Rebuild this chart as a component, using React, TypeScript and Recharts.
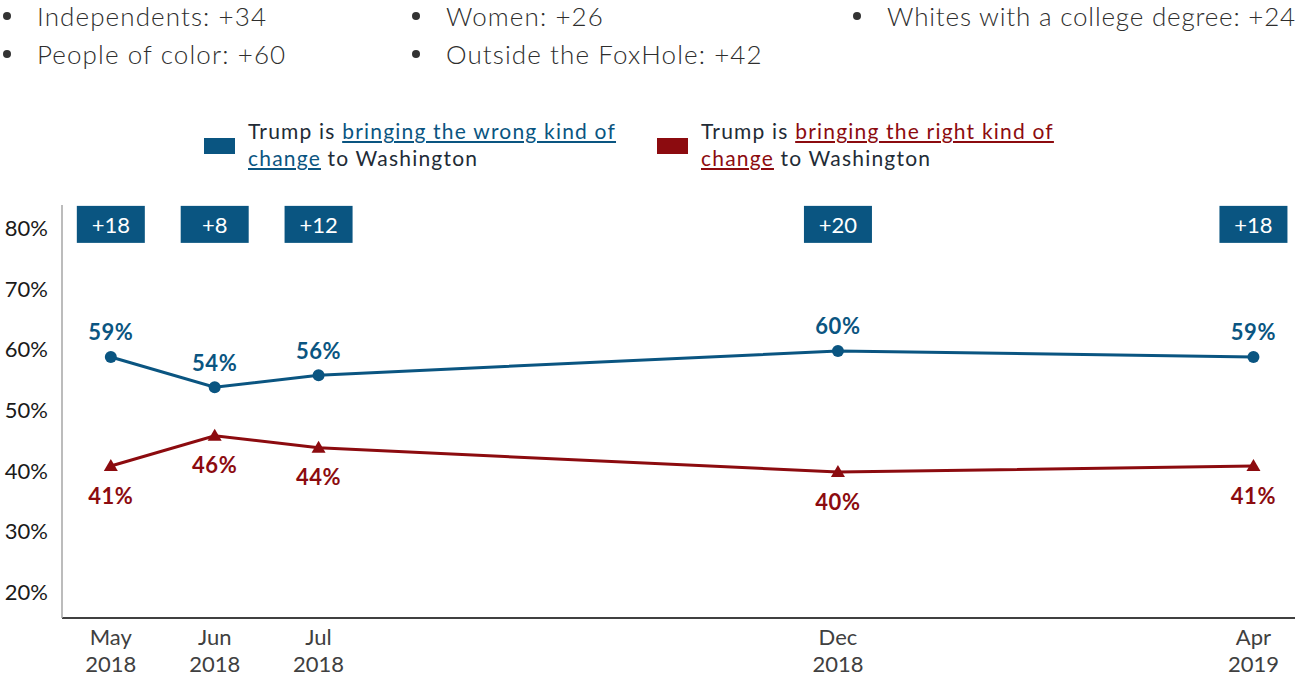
import React from 'react';
import {
  LineChart,
  Line,
  XAxis,
  YAxis,
  LabelList,
  ReferenceDot,
} from 'recharts';

// months counted from May 2018
const MONTHS = [0, 1, 2, 7, 11];
const MONTH_NAMES = ['May', 'Jun', 'Jul', 'Dec', 'Apr'];
const YEARS = ['2018', '2018', '2018', '2018', '2019'];
const WRONG_CHANGE = [59, 54, 56, 60, 59];
const RIGHT_CHANGE = [41, 46, 44, 40, 41];
const NET_MARGIN = [18, 8, 12, 20, 18];
const Y_TICKS = [20, 30, 40, 50, 60, 70, 80];

const BULLETS_COL1 = ['Independents: +34', 'People of color: +60'];
const BULLETS_COL2 = ['Women: +26', 'Outside the FoxHole: +42'];
const BULLETS_COL3 = ['Whites with a college degree: +24'];

const BLUE = '#0a5581';
const RED = '#8c0b0f';
const FONT = 'Lato, "Noto Sans", sans-serif';

const data = MONTHS.map((m, i) => ({
  m,
  wrong: WRONG_CHANGE[i],
  right: RIGHT_CHANGE[i],
}));

const MonthTick = ({ x, y, payload }: any) => {
  const idx = MONTHS.indexOf(payload.value);
  return (
    <g>
      <text x={x} y={y + 16} textAnchor="middle" dominantBaseline="central" fontSize={22} fill="#404040" fontFamily={FONT}>
        {MONTH_NAMES[idx]}
      </text>
      <text x={x} y={y + 43} textAnchor="middle" dominantBaseline="central" fontSize={22} fill="#404040" fontFamily={FONT}>
        {YEARS[idx]}
      </text>
    </g>
  );
};

const PctTick = ({ x, y, payload }: any) => (
  <text x={x} y={y - 2} textAnchor="end" dominantBaseline="central" fontSize={22} fill="#1a1a1a" fontFamily={FONT}>
    {payload.value}%
  </text>
);

const Triangle = ({ cx, cy }: any) => {
  if (cx == null || cy == null) return null;
  return <path d={`M${cx - 7},${cy + 5} L${cx + 7},${cy + 5} L${cx},${cy - 7} Z`} fill={RED} />;
};

const labelAbove = (props: any) => (
  <text x={props.x} y={props.y - 25} textAnchor="middle" dominantBaseline="central" fontSize={22} fontWeight={700} letterSpacing={0.6} fill={BLUE} fontFamily={FONT}>
    {props.value}%
  </text>
);

const labelBelow = (props: any) => (
  <text x={props.x} y={props.y + 29} textAnchor="middle" dominantBaseline="central" fontSize={22} fontWeight={700} letterSpacing={0.6} fill={RED} fontFamily={FONT}>
    {props.value}%
  </text>
);

const marginBox = (value: number) => (props: any) => (
  <g>
    <rect x={props.cx - 34} y={props.cy - 18.5} width={68} height={37} fill={BLUE} />
    <text x={props.cx} y={props.cy} textAnchor="middle" dominantBaseline="central" fontSize={22} fill="#fff" fontFamily={FONT}>
      +{value}
    </text>
  </g>
);

const Bullet = ({ text }: { text: string }) => (
  <div style={{ display: 'flex', alignItems: 'center', height: 38 }}>
    <span style={{ width: 8, height: 8, borderRadius: 4, background: '#333', marginLeft: 3, marginRight: 26 }} />
    <span>{text}</span>
  </div>
);

const LegendItem = ({ color, words }: { color: string; words: string[] }) => (
  <div style={{ display: 'flex', alignItems: 'center' }}>
    <div style={{ width: 31, height: 16, background: color, marginRight: 13, marginTop: 3 }} />
    <div style={{ fontSize: 21, lineHeight: '27px', letterSpacing: 1.2, color: '#222b36', whiteSpace: 'nowrap' }}>
      Trump is <span style={{ color, textDecoration: 'underline' }}>{words[0]}</span>
      <br />
      <span style={{ color, textDecoration: 'underline' }}>{words[1]}</span> to Washington
    </div>
  </div>
);

export default function App() {
  const bulletStyle: React.CSSProperties = {
    position: 'absolute',
    top: -3,
    fontSize: 26,
    fontWeight: 300,
    letterSpacing: 1.1,
    color: '#2e2e2e',
    whiteSpace: 'nowrap',
  };
  return (
    <div style={{ position: 'absolute', left: 0, top: 0, width: 1300, height: 678, background: '#fff', fontFamily: FONT, overflow: 'hidden' }}>
      <div style={{ ...bulletStyle, left: 0 }}>
        {BULLETS_COL1.map((t) => <Bullet key={t} text={t} />)}
      </div>
      <div style={{ ...bulletStyle, left: 409 }}>
        {BULLETS_COL2.map((t) => <Bullet key={t} text={t} />)}
      </div>
      <div style={{ ...bulletStyle, left: 850, letterSpacing: 0.8 }}>
        {BULLETS_COL3.map((t) => <Bullet key={t} text={t} />)}
      </div>

      <div style={{ position: 'absolute', left: 204, top: 117 }}>
        <LegendItem color={BLUE} words={['bringing the wrong kind of', 'change']} />
      </div>
      <div style={{ position: 'absolute', left: 657, top: 117 }}>
        <LegendItem color={RED} words={['bringing the right kind of', 'change']} />
      </div>

      <div style={{ position: 'absolute', left: 0, top: 0 }}>
        <LineChart width={1300} height={678} data={data} margin={{ top: 205, right: 5, bottom: 5, left: 0 }}>
          <XAxis
            dataKey="m"
            type="number"
            domain={[-0.47, 11.4]}
            ticks={MONTHS}
            tick={<MonthTick />}
            tickLine={false}
            tickSize={0}
            axisLine={{ stroke: '#000', strokeWidth: 1.5 }}
            height={55}
            interval={0}
          />
          <YAxis
            type="number"
            domain={[15.9, 84.1]}
            ticks={Y_TICKS}
            tick={<PctTick />}
            tickLine={false}
            tickSize={0}
            tickMargin={14}
            axisLine={{ stroke: '#a6a6a6', strokeWidth: 1.5 }}
            width={62}
            allowDataOverflow
          />
          {MONTHS.map((m, i) => (
            <ReferenceDot key={m} x={m} y={80.9} r={0} shape={marginBox(NET_MARGIN[i])} ifOverflow="visible" />
          ))}
          <Line
            dataKey="wrong"
            stroke={BLUE}
            strokeWidth={3}
            dot={{ r: 6, fill: BLUE, stroke: BLUE, strokeWidth: 0 }}
            isAnimationActive={false}
          >
            <LabelList dataKey="wrong" content={labelAbove} />
          </Line>
          <Line
            dataKey="right"
            stroke={RED}
            strokeWidth={3}
            dot={<Triangle />}
            isAnimationActive={false}
          >
            <LabelList dataKey="right" content={labelBelow} />
          </Line>
        </LineChart>
      </div>
    </div>
  );
}
